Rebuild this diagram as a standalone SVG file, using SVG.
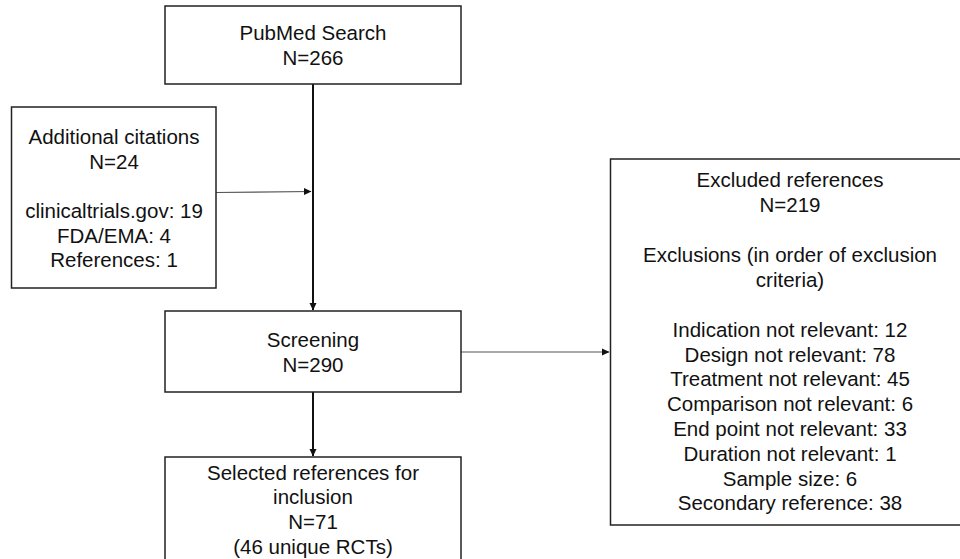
<svg xmlns="http://www.w3.org/2000/svg" width="960" height="559" viewBox="0 0 960 559">
<style>
.box{fill:#fff;stroke:#222;stroke-width:1.5}
.t{font-family:"Liberation Sans",Arial,sans-serif;font-size:20.5px;fill:#111;text-anchor:middle}
.main{stroke:#111;stroke-width:2;fill:none}
.thin{stroke:#555;stroke-width:1.2;fill:none}
</style>
<defs>
<marker id="ah" markerWidth="8" markerHeight="8" refX="7" refY="4" orient="auto" markerUnits="userSpaceOnUse">
<path d="M0,0.5 L7.5,4 L0,7.5 Z" fill="#111"/>
</marker>
</defs>
<rect width="960" height="559" fill="#fff"/>
<g id="connectors">
<line class="main" x1="313" y1="84" x2="313" y2="310" marker-end="url(#ah)"/>
<line class="thin" x1="216" y1="192.5" x2="311" y2="191.5" marker-end="url(#ah)"/>
<line class="main" x1="313" y1="392" x2="313" y2="456" marker-end="url(#ah)"/>
<line class="thin" x1="461" y1="352" x2="609" y2="352" marker-end="url(#ah)"/>
</g>
<g id="pubmed">
<rect class="box" x="165" y="6" width="296" height="78"/>
<text class="t" x="313" y="40">PubMed Search</text>
<text class="t" x="313" y="65">N=266</text>
</g>
<g id="additional">
<rect class="box" x="11.5" y="107" width="204.5" height="181"/>
<text class="t" x="114" y="144">Additional citations</text>
<text class="t" x="114" y="169">N=24</text>
<text class="t" x="114" y="218">clinicaltrials.gov: 19</text>
<text class="t" x="114" y="243">FDA/EMA: 4</text>
<text class="t" x="114" y="267">References: 1</text>
</g>
<g id="screening">
<rect class="box" x="165" y="311" width="296" height="81"/>
<text class="t" x="313" y="347">Screening</text>
<text class="t" x="313" y="372">N=290</text>
</g>
<g id="selected">
<rect class="box" x="165" y="457" width="296" height="120"/>
<text class="t" x="313" y="480">Selected references for</text>
<text class="t" x="313" y="504">inclusion</text>
<text class="t" x="313" y="529">N=71</text>
<text class="t" x="313" y="554">(46 unique RCTs)</text>
</g>
<g id="excluded">
<rect class="box" x="610.5" y="159" width="370" height="366"/>
<text class="t" x="790" y="187">Excluded references</text>
<text class="t" x="790" y="212">N=219</text>
<text class="t" x="790" y="262">Exclusions (in order of exclusion</text>
<text class="t" x="790" y="287">criteria)</text>
<text class="t" x="790" y="337">Indication not relevant: 12</text>
<text class="t" x="790" y="362">Design not relevant: 78</text>
<text class="t" x="790" y="386">Treatment not relevant: 45</text>
<text class="t" x="790" y="411">Comparison not relevant: 6</text>
<text class="t" x="790" y="436">End point not relevant: 33</text>
<text class="t" x="790" y="461">Duration not relevant: 1</text>
<text class="t" x="790" y="486">Sample size: 6</text>
<text class="t" x="790" y="510">Secondary reference: 38</text>
</g>
</svg>
